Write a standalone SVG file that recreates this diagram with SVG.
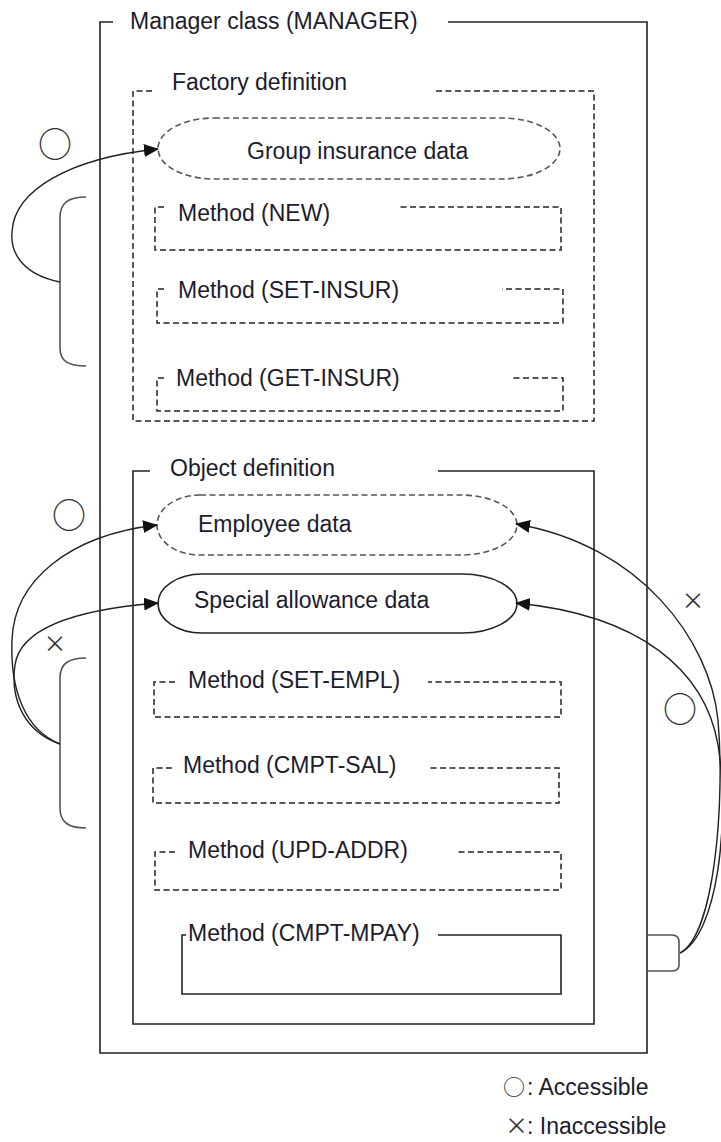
<svg xmlns="http://www.w3.org/2000/svg" width="721" height="1142" viewBox="0 0 721 1142">
<style>
text{font-family:"Liberation Sans",Arial,sans-serif;font-size:23px;fill:#1c1c2c}
.sym{font-family:"Noto Sans CJK JP","DejaVu Sans",sans-serif;fill:#333}
.big{font-size:34px}
.mid{font-size:22px}
.solid{fill:none;stroke:#222;stroke-width:1.6}
.dash{fill:none;stroke:#222;stroke-width:1.5;stroke-dasharray:6 3.5}
.gdash{fill:none;stroke:#555;stroke-width:1.6;stroke-dasharray:6 3.5}
.br{fill:none;stroke:#555;stroke-width:1.6}
.con{fill:none;stroke:#222;stroke-width:1.4}
</style>
<defs>
<marker id="ah" markerUnits="userSpaceOnUse" markerWidth="16" markerHeight="14" refX="14" refY="6.5" orient="auto">
<path d="M0,0 L15,6.5 L0,13 z" fill="#111"/>
</marker>
</defs>
<rect width="721" height="1142" fill="#fff"/>

<g id="manager">
<path class="solid" d="M113 22 H100 V1053 H647 V22 H448"/>
<text x="130" y="29">Manager class (MANAGER)</text>
</g>

<g id="factory">
<path class="dash" d="M152 91 H133 V421 H594 V91 H433"/>
<text x="172" y="90">Factory definition</text>
</g>

<g id="group-insurance">
<path class="gdash" d="M214 118 H502 A58 30.5 0 0 1 502 179 H214 A56 30.5 0 0 1 214 118 Z"/>
<text x="247" y="159">Group insurance data</text>
</g>

<g id="m-new">
<path class="dash" d="M164 207 H155 V250 H561 V207 H400"/>
<text x="178" y="221">Method (NEW)</text>
</g>

<g id="m-set-insur">
<path class="dash" d="M164 289 H157 V323 H563 V289 H502"/>
<text x="178" y="298">Method (SET-INSUR)</text>
</g>

<g id="m-get-insur">
<path class="dash" d="M164 378 H157 V411 H563 V378 H512"/>
<text x="176" y="386">Method (GET-INSUR)</text>
</g>

<g id="object">
<path class="solid" d="M150 471 H133 V1024 H594 V471 H438"/>
<text x="170" y="476">Object definition</text>
</g>

<g id="employee">
<path class="gdash" d="M200 495 H461 A56 30 0 0 1 461 555 H200 A43 30 0 0 1 200 495 Z"/>
<text x="198" y="532">Employee data</text>
</g>

<g id="special">
<path class="solid" d="M202 574 H462 A55 29.5 0 0 1 462 633 H202 A44 29.5 0 0 1 202 574 Z"/>
<text x="194" y="608">Special allowance data</text>
</g>

<g id="m-set-empl">
<path class="dash" d="M175 682 H154 V717 H561 V682 H428"/>
<text x="188" y="688">Method (SET-EMPL)</text>
</g>

<g id="m-cmpt-sal">
<path class="dash" d="M172 768 H153 V803 H559 V768 H428"/>
<text x="183" y="773">Method (CMPT-SAL)</text>
</g>

<g id="m-upd-addr">
<path class="dash" d="M175 852 H155 V890 H561 V852 H457"/>
<text x="188" y="858">Method (UPD-ADDR)</text>
</g>

<g id="m-cmpt-mpay">
<path class="solid" d="M186 935 H182 V994 H561 V935 H438"/>
<text x="188" y="941">Method (CMPT-MPAY)</text>
</g>

<g id="brackets">
<path class="br" d="M86 197 C68 197 60 203 60 218 V348 C60 361 68 366 86 366"/>
<path class="br" d="M86 658 C68 658 60 664 60 678 V808 C60 822 68 828 86 828"/>
<path class="br" d="M647 935 H672 Q679 935 679 942 V965 Q679 971 672 971 H647"/>
</g>

<g id="connectors">
<path class="con" marker-end="url(#ah)" d="M60 282 C25 275 10 255 12 232 C14 190 70 158 158 149"/>
<path class="con" marker-end="url(#ah)" d="M60 744 C25 730 10 690 12 640 C14 580 70 535 157 525"/>
<path class="con" marker-end="url(#ah)" d="M60 744 C25 732 10 700 15 665 C20 630 70 610 158 603"/>
<path class="con" marker-end="url(#ah)" d="M680 953 C715 935 725 800 718 720 C710 640 640 545 516 524"/>
<path class="con" marker-end="url(#ah)" d="M680 953 C718 935 730 820 718 745 C705 670 640 615 516 603"/>
</g>

<g id="marks">
<text class="sym big" x="55" y="142" text-anchor="middle" dominant-baseline="central">○</text>
<text class="sym big" x="69" y="513" text-anchor="middle" dominant-baseline="central">○</text>
<text class="sym big" x="680" y="707" text-anchor="middle" dominant-baseline="central">○</text>
<text class="sym" x="55" y="642" text-anchor="middle" dominant-baseline="central">×</text>
<text class="sym" x="693" y="599" text-anchor="middle" dominant-baseline="central">×</text>
</g>

<g id="legend">
<text y="1095"><tspan class="sym mid" x="503">○</tspan><tspan x="527">: Accessible</tspan></text>
<text y="1134"><tspan class="sym" x="505">×</tspan><tspan x="527">: Inaccessible</tspan></text>
</g>
</svg>
